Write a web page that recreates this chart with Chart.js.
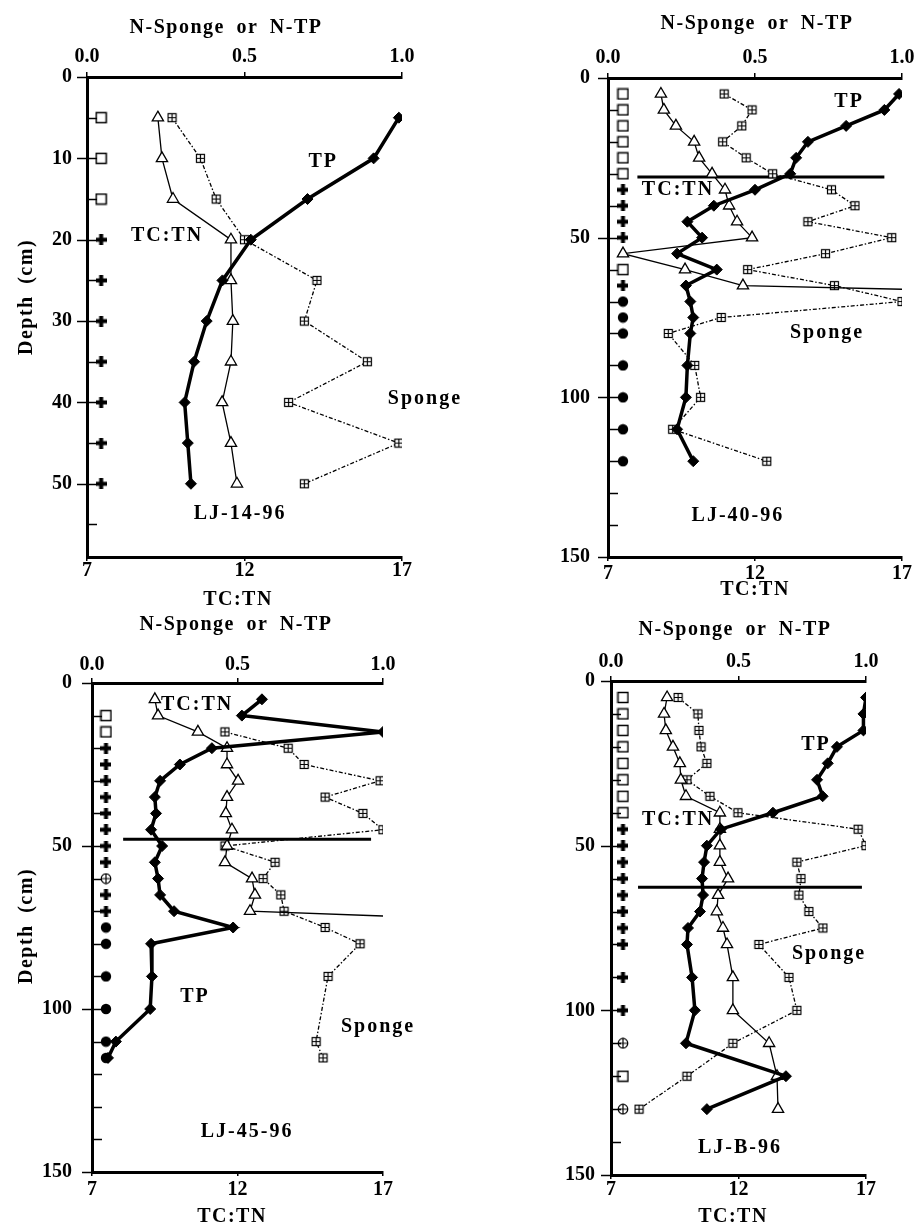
<!DOCTYPE html>
<html>
<head>
<meta charset="utf-8">
<script src="https://cdn.jsdelivr.net/npm/chart.js@4.4.1/dist/chart.umd.min.js"></script>
<style>
  html, body { margin: 0; padding: 0; background: #fff; }
  body { width: 915px; height: 1231px; position: relative; overflow: hidden; }
  canvas { position: absolute; }
</style>
</head>
<body>
<canvas id="p1" width="490" height="615" style="left:0;top:0"></canvas>
<canvas id="p2" width="458" height="615" style="left:457px;top:0"></canvas>
<canvas id="p3" width="457" height="616" style="left:0;top:615px"></canvas>
<canvas id="p4" width="458" height="616" style="left:457px;top:615px"></canvas>
<script>
// LJ-14-96
const p1Depth = [5, 10, 15, 20, 25, 30, 35, 40, 45, 50];
const p1TP = [0.99, 0.91, 0.70, 0.52, 0.43, 0.38, 0.34, 0.31, 0.32, 0.33];
const p1TCTN = [9.25, 9.38, 9.73, 11.57, 11.57, 11.63, 11.57, 11.29, 11.57, 11.76];
const p1Sponge = [0.27, 0.36, 0.41, 0.50, 0.73, 0.69, 0.89, 0.64, 0.99, 0.69];
const p1SampleDepth = [5, 10, 15, 20, 25, 30, 35, 40, 45, 50];
const p1SampleType = ['sq', 'sq', 'sq', 'plus', 'plus', 'plus', 'plus', 'plus', 'plus', 'plus'];

// LJ-40-96
const p2Depth = [5, 10, 15, 20, 25, 30, 35, 40, 45, 50, 55, 60, 65, 70, 75, 80, 90, 100, 110, 120];
const p2TP = [0.99, 0.94, 0.81, 0.68, 0.64, 0.62, 0.50, 0.36, 0.27, 0.32, 0.235, 0.37, 0.265, 0.28, 0.29, 0.28, 0.27, 0.265, 0.235, 0.29];
const p2Sponge = [0.395, 0.49, 0.455, 0.39, 0.47, 0.56, 0.76, 0.84, 0.68, 0.965, 0.74, 0.475, 0.77, 1.0, 0.385, 0.205, 0.295, 0.315, 0.22, 0.54];
const p2TcDepth = [5, 10, 15, 20, 25, 30, 35, 40, 45, 50, 55, 60, 65, 70];
const p2TCTN = [8.8, 8.9, 9.31, 9.93, 10.1, 10.54, 10.98, 11.12, 11.39, 11.9, 7.51, 9.62, 11.59, 35];
const p2SampleDepth = [5, 10, 15, 20, 25, 30, 35, 40, 45, 50, 60, 65, 70, 75, 80, 90, 100, 110, 120];
const p2SampleType = ['sq', 'sq', 'sq', 'sq', 'sq', 'sq', 'plus', 'plus', 'plus', 'plus', 'sq', 'plus', 'dot', 'dot', 'dot', 'dot', 'dot', 'dot', 'dot'];
const p2BoundaryDepth = 31;
const p2BoundaryX = [0.10, 0.94];

// LJ-45-96
const p3TpDepth = [5, 10, 15, 20, 25, 30, 35, 40, 45, 50, 55, 60, 65, 70, 75, 80, 90, 100, 110, 115];
const p3TP = [0.584, 0.515, 1.0, 0.412, 0.302, 0.234, 0.216, 0.22, 0.203, 0.241, 0.216, 0.227, 0.234, 0.282, 0.485, 0.203, 0.206, 0.2, 0.082, 0.055];
const p3TcDepth = [5, 10, 15, 20, 25, 30, 35, 40, 45, 50, 55, 60, 65, 70, 75];
const p3TCTN = [9.16, 9.27, 10.64, 11.64, 11.64, 12.02, 11.64, 11.6, 11.81, 11.64, 11.57, 12.5, 12.6, 12.43, 28];
const p3SpDepth = [15, 20, 25, 30, 35, 40, 45, 50, 55, 60, 65, 70, 75, 80, 90, 110, 115];
const p3Sponge = [0.457, 0.674, 0.729, 0.99, 0.801, 0.931, 1.0, 0.457, 0.629, 0.588, 0.649, 0.66, 0.801, 0.921, 0.811, 0.77, 0.794];
const p3SampleDepth = [10, 15, 20, 25, 30, 35, 40, 45, 50, 55, 60, 65, 70, 75, 80, 90, 100, 110, 115];
const p3SampleType = ['sq', 'sq', 'plus', 'plus', 'plus', 'plus', 'plus', 'plus', 'plus', 'plus', 'cplus', 'plus', 'plus', 'dot', 'dot', 'dot', 'dot', 'dot', 'dot'];
const p3BoundaryDepth = 47.9;
const p3BoundaryX = [0.107, 0.959];

// LJ-B-96
const p4Depth = [5, 10, 15, 20, 25, 30, 35, 40, 45, 50, 55, 60, 65, 70, 75, 80, 90, 100, 110, 120, 130];
const p4TP = [1.0, 0.99, 0.99, 0.886, 0.85, 0.808, 0.83, 0.635, 0.431, 0.376, 0.365, 0.357, 0.361, 0.349, 0.302, 0.298, 0.318, 0.329, 0.294, 0.686, 0.376];
const p4TCTN = [9.2, 9.08, 9.15, 9.43, 9.7, 9.74, 9.94, 11.27, 11.27, 11.27, 11.27, 11.59, 11.2, 11.15, 11.39, 11.55, 11.78, 11.78, 13.2, 13.51, 13.55];
const p4Sponge = [0.263, 0.341, 0.345, 0.353, 0.376, 0.298, 0.388, 0.498, 0.969, 1.0, 0.729, 0.745, 0.737, 0.776, 0.831, 0.58, 0.698, 0.729, 0.478, 0.298, 0.11];
const p4SampleDepth = [5, 10, 15, 20, 25, 30, 35, 40, 45, 50, 55, 60, 65, 70, 75, 80, 90, 100, 110, 120, 130];
const p4SampleType = ['sq', 'sq', 'sq', 'sq', 'sq', 'sq', 'sq', 'sq', 'plus', 'plus', 'plus', 'plus', 'plus', 'plus', 'plus', 'plus', 'plus', 'plus', 'cplus', 'sq', 'cplus'];
const p4BoundaryDepth = 62.6;
const p4BoundaryX = [0.106, 0.984];

const SERIF = '"Liberation Serif", "Times New Roman", serif';
Chart.defaults.font.family = SERIF;
Chart.defaults.color = '#000';

// little marker images
function symbol(size, draw) {
  const c = document.createElement('canvas');
  c.width = size;
  c.height = size;
  draw(c.getContext('2d'), size);
  return c;
}

const gridBox = symbol(11, g => {
  g.fillStyle = '#fff';
  g.fillRect(1, 1, 9, 9);
  g.strokeStyle = '#000';
  g.lineWidth = 1.2;
  g.strokeRect(1.5, 1.5, 8, 8);
  g.beginPath();
  g.moveTo(5.5, 1.5); g.lineTo(5.5, 9.5);
  g.moveTo(1.5, 5.5); g.lineTo(9.5, 5.5);
  g.stroke();
});

const symbols = {
  sq: symbol(13, g => {
    g.fillStyle = '#fff';
    g.fillRect(1, 1, 11, 11);
    g.strokeStyle = '#000';
    g.lineWidth = 1.5;
    g.strokeRect(1.5, 1.5, 10, 10);
  }),
  plus: symbol(11, g => {
    g.fillStyle = '#000';
    g.fillRect(3.5, 0, 4, 11);
    g.fillRect(0, 3.5, 11, 4);
  }),
  dot: symbol(12, g => {
    g.fillStyle = '#000';
    g.beginPath();
    g.arc(6, 6, 5.2, 0, Math.PI * 2);
    g.fill();
  }),
  cplus: symbol(12, g => {
    g.strokeStyle = '#000';
    g.lineWidth = 1.2;
    g.beginPath();
    g.arc(6, 6, 4.8, 0, Math.PI * 2);
    g.moveTo(1, 6); g.lineTo(11, 6);
    g.moveTo(6, 1); g.lineTo(6, 11);
    g.stroke();
  })
};

function pts(depths, vals) {
  return depths.map((d, i) => ({ x: vals[i], y: d }));
}

const panels = [
  {
    id: 'p1', left: 0, top: 0, w: 490, h: 615,
    area: { l: 87, t: 77, r: 402, b: 557 },
    depthMax: 59, tickStep: 5, labelStep: 10,
    topPad: 5, bottomPad: 0, leftPad: 15,
    sampleX: 0.045, sampleDepth: p1SampleDepth, sampleType: p1SampleType,
    tp: pts(p1Depth, p1TP), tctn: pts(p1Depth, p1TCTN), sponge: pts(p1Depth, p1Sponge),
    boundary: null,
    notes: [
      { text: 'TP', x: 0.75, y: 10.4 },
      { text: 'TC:TN', x: 0.254, y: 19.5 },
      { text: 'Sponge', x: 1.073, y: 39.6 },
      { text: 'LJ-14-96', x: 0.486, y: 53.7 }
    ],
    titles: [
      { text: 'N-Sponge or N-TP', x: 226, y: 28 },
      { text: 'TC:TN', x: 238, y: 600 },
      { text: 'Depth (cm)', x: 27, y: 297, rot: true }
    ]
  },
  {
    id: 'p2', left: 457, top: 0, w: 458, h: 615,
    area: { l: 608, t: 78, r: 902, b: 557 },
    depthMax: 150, tickStep: 10, labelStep: 50,
    topPad: 5, bottomPad: 3, leftPad: 18,
    sampleX: 0.051, sampleDepth: p2SampleDepth, sampleType: p2SampleType,
    tp: pts(p2Depth, p2TP), tctn: pts(p2TcDepth, p2TCTN), sponge: pts(p2Depth, p2Sponge),
    boundary: [{ x: p2BoundaryX[0], y: p2BoundaryDepth }, { x: p2BoundaryX[1], y: p2BoundaryDepth }],
    notes: [
      { text: 'TP', x: 0.82, y: 7.5 },
      { text: 'TC:TN', x: 0.238, y: 35.1 },
      { text: 'Sponge', x: 0.745, y: 79.9 },
      { text: 'LJ-40-96', x: 0.442, y: 137 }
    ],
    titles: [
      { text: 'N-Sponge or N-TP', x: 757, y: 24 },
      { text: 'TC:TN', x: 755, y: 590 }
    ]
  },
  {
    id: 'p3', left: 0, top: 615, w: 457, h: 616,
    area: { l: 92, t: 683, r: 383, b: 1172 },
    depthMax: 150, tickStep: 10, labelStep: 50,
    topPad: 3, bottomPad: 4, leftPad: 20,
    sampleX: 0.048, sampleDepth: p3SampleDepth, sampleType: p3SampleType,
    tp: pts(p3TpDepth, p3TP), tctn: pts(p3TcDepth, p3TCTN), sponge: pts(p3SpDepth, p3Sponge),
    boundary: [{ x: p3BoundaryX[0], y: p3BoundaryDepth }, { x: p3BoundaryX[1], y: p3BoundaryDepth }],
    notes: [
      { text: 'TC:TN', x: 0.361, y: 6.7 },
      { text: 'TP', x: 0.354, y: 96.3 },
      { text: 'Sponge', x: 0.983, y: 105.5 },
      { text: 'LJ-45-96', x: 0.533, y: 137.7 }
    ],
    titles: [
      { text: 'N-Sponge or N-TP', x: 236, y: 625 },
      { text: 'TC:TN', x: 232, y: 1217 },
      { text: 'Depth (cm)', x: 27, y: 926, rot: true }
    ]
  },
  {
    id: 'p4', left: 457, top: 615, w: 458, h: 616,
    area: { l: 611, t: 681, r: 866, b: 1175 },
    depthMax: 150, tickStep: 10, labelStep: 50,
    topPad: 4, bottomPad: 1, leftPad: 16,
    sampleX: 0.047, sampleDepth: p4SampleDepth, sampleType: p4SampleType,
    tp: pts(p4Depth, p4TP), tctn: pts(p4Depth, p4TCTN), sponge: pts(p4Depth, p4Sponge),
    boundary: [{ x: p4BoundaryX[0], y: p4BoundaryDepth }, { x: p4BoundaryX[1], y: p4BoundaryDepth }],
    notes: [
      { text: 'TP', x: 0.804, y: 19.5 },
      { text: 'TC:TN', x: 0.263, y: 42.1 },
      { text: 'Sponge', x: 0.855, y: 82.7 },
      { text: 'LJ-B-96', x: 0.506, y: 141.7 }
    ],
    titles: [
      { text: 'N-Sponge or N-TP', x: 735, y: 630 },
      { text: 'TC:TN', x: 733, y: 1217 }
    ]
  }
];

// depth ticks that cross the axis, panel labels and axis titles
function decorFor(p) {
  return {
    id: 'decor',
    afterDraw(chart) {
      const ctx = chart.ctx, ys = chart.scales.y, xs = chart.scales.x, a = chart.chartArea;
      ctx.save();
      ctx.strokeStyle = '#000';
      ctx.lineWidth = 1.5;
      ys.ticks.forEach(t => {
        const py = Math.round(ys.getPixelForValue(t.value)) + 0.5;
        const major = t.value % p.labelStep === 0;
        ctx.beginPath();
        ctx.moveTo(a.left - (major ? 10 : 0), py);
        ctx.lineTo(a.left + 10, py);
        ctx.stroke();
      });

      ctx.fillStyle = '#000';
      ctx.font = 'bold 20px ' + SERIF;
      ctx.letterSpacing = '2px';
      ctx.textAlign = 'center';
      ctx.textBaseline = 'middle';
      p.notes.forEach(n => {
        ctx.fillText(n.text, xs.getPixelForValue(n.x), ys.getPixelForValue(n.y));
      });

      ctx.letterSpacing = '1.5px';
      ctx.wordSpacing = '5px';
      p.titles.forEach(t => {
        const x = t.x - p.left, y = t.y - p.top;
        if (t.rot) {
          ctx.save();
          ctx.translate(x, y);
          ctx.rotate(-Math.PI / 2);
          ctx.fillText(t.text, 0, 0);
          ctx.restore();
        } else {
          ctx.fillText(t.text, x, y);
        }
      });
      ctx.restore();
    }
  };
}

function makePanel(p) {
  const font = { family: SERIF, size: 20, weight: 'bold', lineHeight: 1 };
  const loc = {
    l: p.area.l - p.left,
    t: p.area.t - p.top,
    r: p.area.r - p.left,
    b: p.area.b - p.top
  };

  const datasets = [
    {
      label: 'TP',
      data: p.tp,
      xAxisID: 'x',
      showLine: true,
      borderColor: '#000',
      borderWidth: 3.5,
      pointStyle: 'rectRot',
      pointRadius: 5.5,
      pointBackgroundColor: '#000',
      pointBorderColor: '#000',
      pointBorderWidth: 1
    },
    {
      label: 'TC:TN',
      data: p.tctn,
      xAxisID: 'x2',
      showLine: true,
      borderColor: '#000',
      borderWidth: 1.3,
      pointStyle: 'triangle',
      pointRadius: 6.5,
      pointBackgroundColor: '#fff',
      pointBorderColor: '#000',
      pointBorderWidth: 1.3,
      clip: { left: 10, top: 10, right: 0, bottom: 10 }
    },
    {
      label: 'Sponge',
      data: p.sponge,
      xAxisID: 'x',
      showLine: true,
      borderColor: '#000',
      borderWidth: 1.3,
      borderDash: [4, 2, 1.5, 2],
      pointStyle: gridBox,
      pointRadius: 5
    },
    {
      label: 'Sample',
      data: p.sampleDepth.map(d => ({ x: p.sampleX, y: d })),
      xAxisID: 'x',
      showLine: false,
      pointStyle: ctx => symbols[p.sampleType[ctx.dataIndex]],
      pointRadius: 5
    }
  ];

  if (p.boundary) {
    datasets.push({
      label: 'Boundary',
      data: p.boundary,
      xAxisID: 'x',
      showLine: true,
      borderColor: '#000',
      borderWidth: 3,
      pointRadius: 0
    });
  }

  new Chart(document.getElementById(p.id), {
    type: 'scatter',
    data: { datasets },
    options: {
      responsive: false,
      animation: false,
      events: [],
      devicePixelRatio: 1,
      layout: { padding: { left: 0, top: 0, right: p.w - loc.r, bottom: 0 } },
      plugins: { legend: { display: false }, tooltip: { enabled: false } },
      scales: {
        x: {
          type: 'linear',
          position: 'top',
          min: 0,
          max: 1,
          border: { color: '#000', width: 3 },
          grid: { drawOnChartArea: false, color: '#000', lineWidth: 1.5, tickLength: 5 },
          ticks: { stepSize: 0.5, color: '#000', font, padding: p.topPad, maxRotation: 0, callback: v => v.toFixed(1) },
          afterFit(s) { s.height = loc.t; s.paddingLeft = 0; s.paddingRight = 0; }
        },
        x2: {
          type: 'linear',
          position: 'bottom',
          min: 7,
          max: 17,
          border: { color: '#000', width: 3 },
          grid: { drawOnChartArea: false, color: '#000', lineWidth: 1.5, tickLength: 4 },
          ticks: { stepSize: 5, color: '#000', font, padding: p.bottomPad, maxRotation: 0, callback: v => String(v) },
          afterFit(s) { s.height = p.h - loc.b; s.paddingLeft = 0; s.paddingRight = 0; }
        },
        y: {
          type: 'linear',
          position: 'left',
          reverse: true,
          min: 0,
          max: p.depthMax,
          border: { color: '#000', width: 3 },
          grid: { display: false, drawTicks: false },
          ticks: {
            stepSize: p.tickStep,
            autoSkip: false,
            includeBounds: false,
            color: '#000',
            font,
            padding: p.leftPad,
            callback: v => (v % p.labelStep === 0 ? String(v) : '')
          },
          afterFit(s) { s.width = loc.l; s.paddingTop = 0; s.paddingBottom = 0; }
        }
      }
    },
    plugins: [decorFor(p)]
  });
}

panels.forEach(makePanel);
</script>
</body>
</html>
